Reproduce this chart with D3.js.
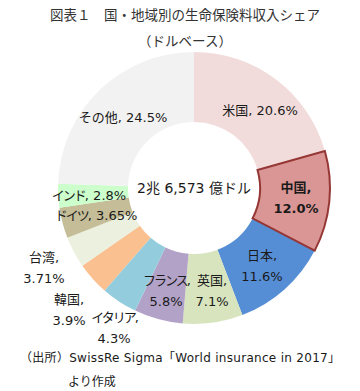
<!DOCTYPE html>
<html>
<head>
<meta charset="utf-8">
<script src="https://cdn.jsdelivr.net/npm/d3@7"></script>
<style>
  body { margin: 0; background: #fff; }
  svg { font-family: "DejaVu Sans", "Noto Sans CJK JP", sans-serif; }
</style>
</head>
<body>
<svg id="chart" width="360" height="391"></svg>
<script>
// data (clockwise from 12 o'clock)
var countries = ["米国", "中国", "日本", "英国", "フランス", "イタリア", "韓国", "台湾", "ドイツ", "インド", "その他"];
var shares    = [20.6, 12.0, 11.6, 7.1, 5.8, 4.3, 3.9, 3.71, 3.65, 2.8, 24.5];
var shareText = ["20.6%", "12.0%", "11.6%", "7.1%", "5.8%", "4.3%", "3.9%", "3.71%", "3.65%", "2.8%", "24.5%"];
var colors    = ["#f2dcdb", "#da9694", "#558ed5", "#d7e4bd", "#b3a2c7", "#93cddd", "#fac090", "#ebf1de", "#c4bd97", "#ccffcc", "#f2f2f2"];

var totalText = "2兆 6,573 億ドル";

var svg = d3.select("#chart");
var cx = 194, cy = 188, rOuter = 136, rInner = 66;

var data = countries.map(function(c, i) {
  return { country: c, share: shares[i], label: shareText[i], color: colors[i] };
});

var pie = d3.pie()
  .sort(null)
  .value(function(d) { return d.share; });

var arc = d3.arc().innerRadius(rInner).outerRadius(rOuter);

var g = svg.append("g").attr("transform", "translate(" + cx + "," + cy + ")");

var arcs = pie(data);

g.selectAll("path.slice")
  .data(arcs)
  .enter().append("path")
    .attr("class", "slice")
    .attr("d", arc)
    .attr("fill", function(d) { return d.data.color; });

// China is highlighted with a dark red border, drawn on top
g.append("path")
  .attr("d", arc(arcs[1]))
  .attr("fill", "none")
  .attr("stroke", "#953735")
  .attr("stroke-width", 2)
  .attr("stroke-linejoin", "miter");

// label layout: [x, y, two lines?]  (positions relative to svg)
var labelPos = {
  "米国":   [260, 110, false],
  "中国":   [296, 187, true],
  "日本":   [262, 255, true],
  "英国":   [212, 280, true],
  "フランス": [166, 280, true],
  "イタリア": [114, 317, true],
  "韓国":   [69, 299, true],
  "台湾":   [44, 257, true],
  "ドイツ":  [96, 215, false],
  "インド":  [89, 195, false],
  "その他":  [123, 117, false]
};

// katakana names are set narrower, like the original font
function isKana(s) { return /^[\u30A0-\u30FF]+$/.test(s); }

var labels = svg.selectAll("text.lbl")
  .data(arcs)
  .enter().append("text")
    .attr("class", "lbl")
    .attr("text-anchor", "middle")
    .attr("font-size", 13)
    .attr("fill", "#1a1a1a")
    .attr("font-weight", function(d) { return d.data.country === "中国" ? "bold" : "normal"; })
    .attr("x", function(d) { return labelPos[d.data.country][0]; })
    .attr("y", function(d) { return labelPos[d.data.country][1]; })
    .attr("dominant-baseline", "central");

labels.each(function(d) {
  var p = labelPos[d.data.country];
  var t = d3.select(this);
  var ls = isKana(d.data.country) ? "-2px" : null;
  if (p[2]) {
    t.append("tspan").attr("x", p[0]).style("letter-spacing", ls).text(d.data.country + ",");
    t.append("tspan").attr("x", p[0]).attr("dy", 21).text(d.data.label);
  } else {
    t.append("tspan").style("letter-spacing", ls).text(d.data.country);
    t.append("tspan").text(", " + d.data.label);
  }
});

// centre total
svg.append("text")
  .attr("x", cx).attr("y", cy)
  .attr("text-anchor", "middle")
  .attr("dominant-baseline", "central")
  .attr("font-size", 14)
  .attr("fill", "#1a1a1a")
  .text(totalText);

// title
svg.append("text")
  .attr("x", 185).attr("y", 14)
  .attr("text-anchor", "middle")
  .attr("dominant-baseline", "central")
  .attr("font-size", 13.5)
  .attr("fill", "#333")
  .style("font-family", "'Noto Sans CJK JP', sans-serif")
  .text("図表１　国・地域別の生命保険料収入シェア");

svg.append("text")
  .attr("x", 185).attr("y", 40)
  .attr("text-anchor", "middle")
  .attr("dominant-baseline", "central")
  .attr("font-size", 13.5)
  .attr("fill", "#333")
  .style("font-family", "'Noto Sans CJK JP', sans-serif")
  .text("（ドルベース）");

// source
svg.append("text")
  .attr("x", 20).attr("y", 358)
  .attr("dominant-baseline", "central")
  .attr("font-size", 12)
  .attr("fill", "#1a1a1a")
  .attr("textLength", 320)
  .text("（出所）SwissRe  Sigma「World  insurance in 2017」");

svg.append("text")
  .attr("x", 68).attr("y", 382)
  .attr("dominant-baseline", "central")
  .attr("font-size", 12)
  .attr("fill", "#1a1a1a")
  .text("より作成");
</script>
</body>
</html>
